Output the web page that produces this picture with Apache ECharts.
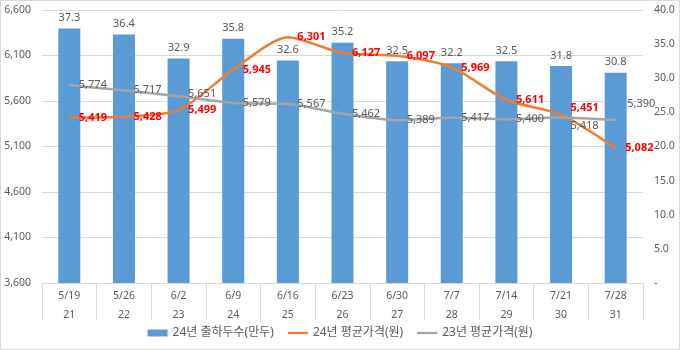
<!DOCTYPE html>
<html><head><meta charset="utf-8">
<script src="https://cdn.jsdelivr.net/npm/echarts@6/dist/echarts.min.js"></script>
<style>html,body{margin:0;padding:0;background:#fff}#c{width:680px;height:350px}</style>
</head><body><div id="c"></div>
<script>
const dates = ['5/19','5/26','6/2','6/9','6/16','6/23','6/30','7/7','7/14','7/21','7/28'];
const weeks = ['21','22','23','24','25','26','27','28','29','30','31'];
const shipments24 = [37.3,36.4,32.9,35.8,32.6,35.2,32.5,32.2,32.5,31.8,30.8];
const price24 = [5419,5428,5499,5945,6301,6127,6097,5969,5611,5451,5082];
const price23 = [5774,5717,5651,5579,5567,5462,5389,5417,5400,5418,5390];
const leftTicks = {min:3600, max:6600, interval:500};
const rightTicks = {min:0, max:40, interval:5};
const seriesNames = ['24년 출하두수(만두)','24년 평균가격(원)','23년 평균가격(원)'];

const FONT = "'Noto Sans', 'Noto Sans CJK KR', sans-serif";
const fmt = v => Math.round(v).toLocaleString('en-US');
const orangeOffsets = {9:[0,-7]};
const grayOffsets = {2:[0,-2], 9:[0,8], 10:[2,-16]};
const lineIcon = 'path://M0,0 H22 V2.5 H0 Z';

const chart = echarts.init(document.getElementById('c'), null, {renderer:'canvas'});
chart.setOption({
  animation:false,
  textStyle:{fontFamily:FONT},
  graphic:[{type:'rect', shape:{x:0.5,y:0.5,width:679,height:349}, style:{fill:'none', stroke:'#d9d9d9', lineWidth:1}, silent:true}],
  grid:{left:42, right:37, top:10, bottom:67},
  legend:{
    bottom:6, left:'center', itemGap:14,
    textStyle:{color:'#595959', fontSize:12, fontFamily:FONT},
    itemWidth:20, itemHeight:7,
    data:[
      {name:seriesNames[0], icon:'rect'},
      {name:seriesNames[1], icon:lineIcon},
      {name:seriesNames[2], icon:lineIcon}
    ]
  },
  xAxis:{
    type:'category',
    data:dates.map((d,i)=>d+'\n'+weeks[i]),
    axisLine:{lineStyle:{color:'#d9d9d9'}},
    axisTick:{show:true, length:37, interval:0, lineStyle:{color:'#d9d9d9'}},
    axisLabel:{color:'#595959', fontSize:10.5, lineHeight:19, margin:4, interval:0}
  },
  yAxis:[
    {type:'value', min:leftTicks.min, max:leftTicks.max, interval:leftTicks.interval,
     axisLine:{show:false}, axisTick:{show:false},
     splitLine:{lineStyle:{color:'#d9d9d9'}},
     axisLabel:{color:'#595959', fontSize:10.5, margin:11, formatter:v=>fmt(v)}},
    {type:'value', min:rightTicks.min, max:rightTicks.max, interval:rightTicks.interval, position:'right',
     axisLine:{show:false}, axisTick:{show:false}, splitLine:{show:false},
     axisLabel:{color:'#595959', fontSize:10.5, margin:11, formatter:v=> v===0 ? '-' : v.toFixed(1)}}
  ],
  series:[
    {name:seriesNames[0], type:'bar', yAxisIndex:1, barWidth:22,
     itemStyle:{color:'#5b9bd5'},
     label:{show:true, position:'top', distance:5, color:'#595959', fontSize:11, formatter:p=>p.value.toFixed(1)},
     data:shipments24},
    {name:seriesNames[1], type:'line', yAxisIndex:0, smooth:0.25, showSymbol:true, symbol:'circle', symbolSize:1,
     lineStyle:{color:'#ed7d31', width:2.5}, itemStyle:{color:'#ed7d31'},
     label:{show:true, position:'right', distance:9, color:'#ff0000', fontWeight:'bold', fontSize:11, formatter:p=>fmt(p.value)},
     data:price24.map((v,i)=>orangeOffsets[i]?{value:v,label:{offset:orangeOffsets[i]}}:v)},
    {name:seriesNames[2], type:'line', yAxisIndex:0, smooth:0.25, showSymbol:true, symbol:'circle', symbolSize:1,
     lineStyle:{color:'#a5a5a5', width:2.5}, itemStyle:{color:'#a5a5a5'},
     label:{show:true, position:'right', distance:9, color:'#595959', fontSize:11, formatter:p=>fmt(p.value)},
     data:price23.map((v,i)=>grayOffsets[i]?{value:v,label:{offset:grayOffsets[i]}}:v)}
  ]
});
</script></body></html>
